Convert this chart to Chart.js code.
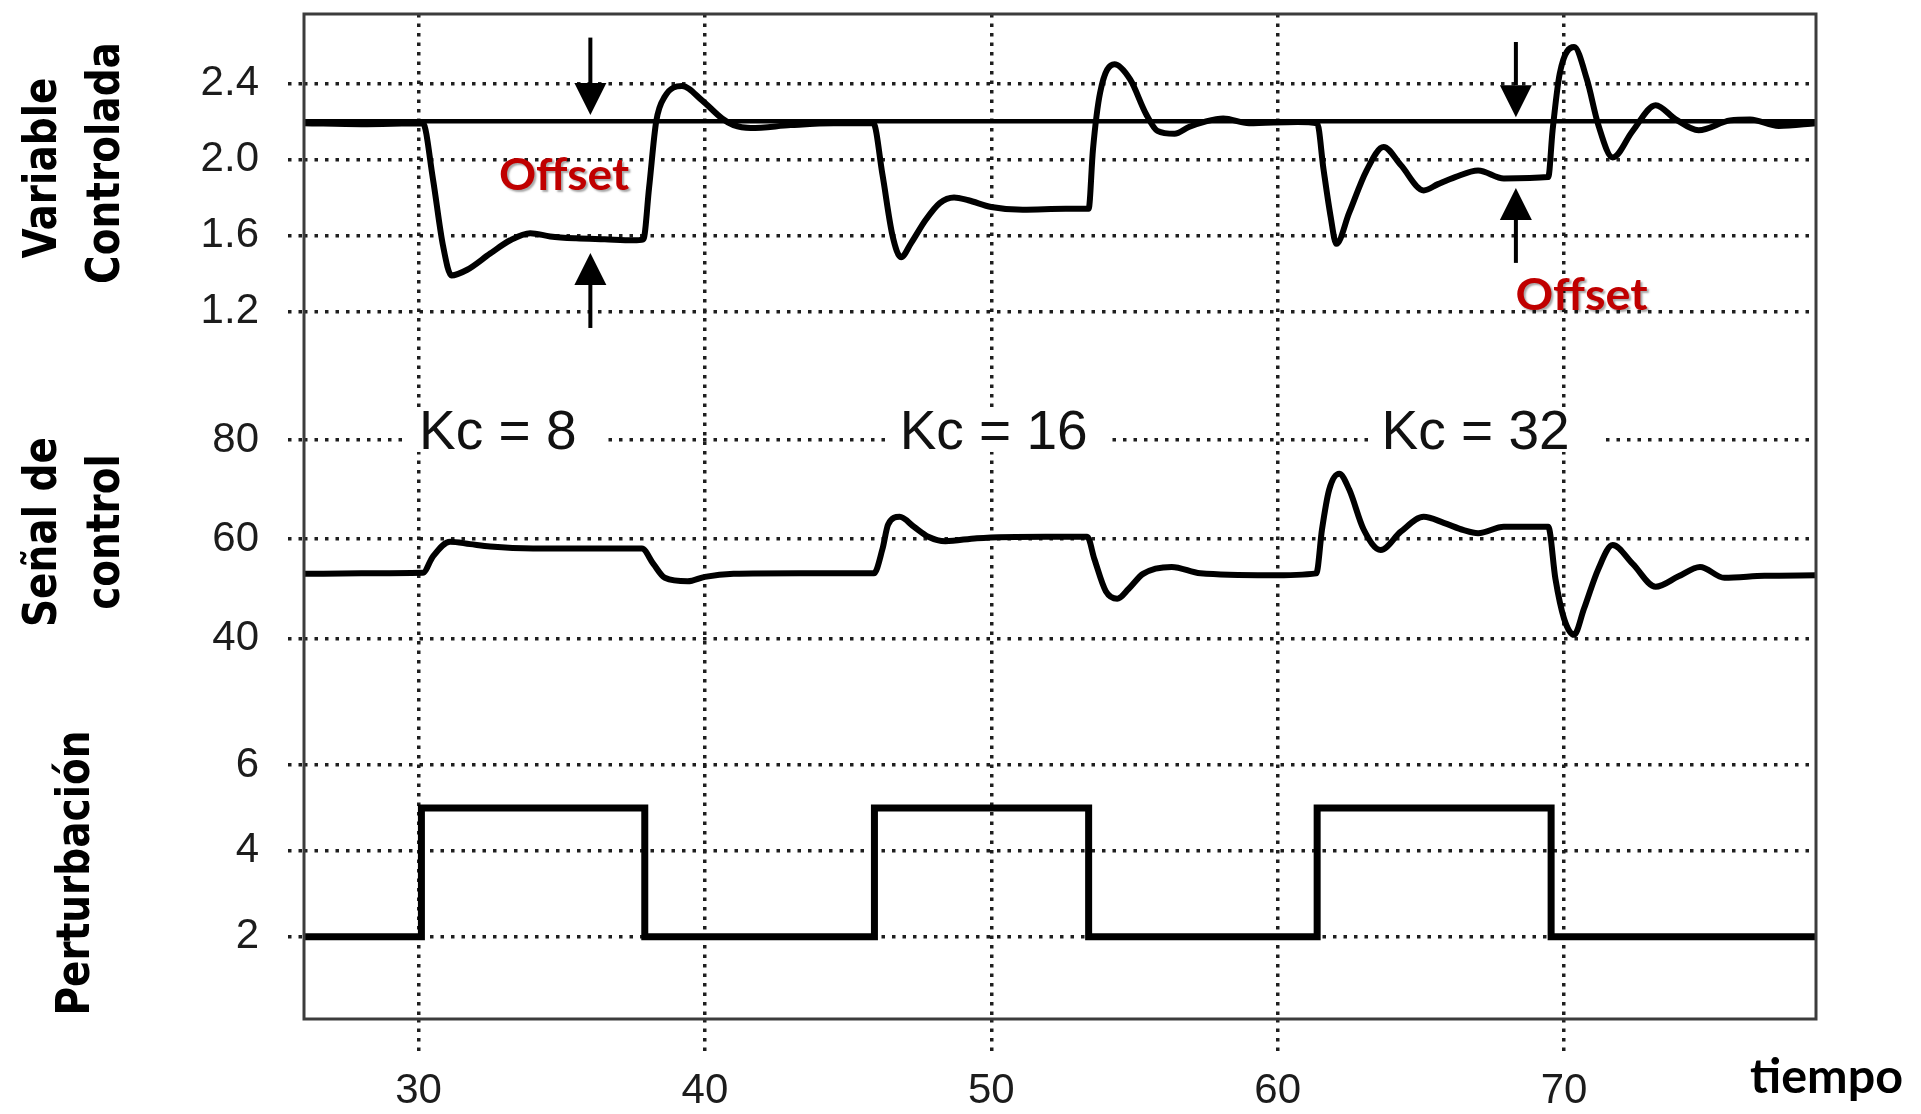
<!DOCTYPE html>
<html lang="es">
<head>
<meta charset="UTF-8">
<title>Variable controlada, señal de control y perturbación</title>
<script src="https://cdn.jsdelivr.net/npm/chart.js@4.4.1/dist/chart.umd.min.js"></script>
<style>
  html, body { margin: 0; padding: 0; background: #fff; }
  canvas { display: block; }
</style>
</head>
<body>
<canvas id="chart" width="1921" height="1114"></canvas>
<script>
// valores (tiempo en el eje x)
const tVariable = [26.0, 28.0, 30.15, 30.5, 30.85, 31.15, 31.7, 32.5, 33.2, 33.9, 34.6, 35.5, 36.5, 37.5, 37.85,
  38.05, 38.3, 38.6, 39.2, 39.9, 40.6, 41.0, 41.6, 43.0, 44.5, 45.88, 46.2, 46.55, 46.85, 47.2, 47.7, 48.2, 48.7,
  49.2, 50.0, 51.1, 52.6, 53.4, 53.55, 53.8, 54.3, 54.85, 55.4, 55.8, 56.4, 56.9, 57.5, 58.1, 59.0, 60.7, 61.38,
  61.6, 61.85, 62.05, 62.5, 63.1, 63.7, 64.3, 65.1, 65.6, 66.2, 67.0, 67.9, 69.45, 69.6, 69.85, 70.35, 70.8, 71.2,
  71.7, 72.4, 73.2, 73.9, 74.7, 75.8, 76.5, 77.5, 78.8];
const variable = [2.19, 2.185, 2.19, 1.90, 1.55, 1.39, 1.42, 1.505, 1.575, 1.612, 1.595, 1.585, 1.58, 1.575, 1.58,
  1.85, 2.2, 2.33, 2.385, 2.31, 2.215, 2.18, 2.165, 2.18, 2.19, 2.19, 1.92, 1.6, 1.486, 1.56, 1.68, 1.77, 1.80,
  1.785, 1.75, 1.735, 1.74, 1.74, 2.05, 2.35, 2.50, 2.42, 2.24, 2.15, 2.135, 2.17, 2.2, 2.215, 2.19, 2.197, 2.19,
  1.95, 1.7, 1.556, 1.72, 1.94, 2.065, 1.97, 1.837, 1.87, 1.907, 1.942, 1.90, 1.907, 2.15, 2.45, 2.59, 2.42, 2.18,
  2.01, 2.15, 2.285, 2.21, 2.153, 2.205, 2.21, 2.175, 2.19];

const tReferencia = [26, 78.8];
const referencia = [2.2, 2.2];

const tSenal = [26.0, 28.0, 30.15, 30.5, 31.1, 31.8, 32.5, 34.0, 37.8, 38.2, 38.6, 39.4, 40.0, 41.0, 43.3, 45.9,
  46.2, 46.4, 46.8, 47.3, 47.8, 48.4, 49.5, 51.9, 53.35, 53.6, 54.0, 54.4, 54.8, 55.3, 56.3, 57.3, 59.7, 61.35,
  61.55, 61.8, 62.15, 62.5, 63.0, 63.6, 64.3, 65.1, 65.8, 66.5, 67.0, 67.9, 69.45, 69.7, 70.0, 70.35, 70.7, 71.2,
  71.7, 72.4, 73.2, 74.0, 74.75, 75.6, 77.0, 78.8];
const senal = [53.0, 53.1, 53.2, 56.5, 59.5, 59.0, 58.5, 58.1, 58.1, 55.0, 52.2, 51.5, 52.4, 53.0, 53.1, 53.1,
  58.0, 63.0, 64.5, 62.5, 60.5, 59.6, 60.2, 60.5, 60.5, 56.0, 49.5, 48.0, 50.0, 53.0, 54.4, 53.1, 52.7, 53.1,
  62.0, 70.0, 73.2, 70.0, 62.0, 57.8, 61.5, 64.5, 63.3, 61.8, 61.2, 62.5, 62.5, 52.0, 44.0, 40.7, 46.0, 54.0,
  58.8, 55.0, 50.4, 52.5, 54.4, 52.2, 52.6, 52.7];

const tPerturbacion = [26, 30.1, 37.9, 45.92, 53.4, 61.38, 69.55, 78.8];
const perturbacion = [2, 5, 2, 5, 2, 5, 2, 2];

const ticksTiempo = [30, 40, 50, 60, 70];
const ticksVariable = [1.2, 1.6, 2.0, 2.4];
const ticksSenal = [40, 60, 80];
const ticksPerturbacion = [2, 4, 6];

const etiquetasKc = ["Kc = 8", "Kc = 16", "Kc = 32"];

// anotaciones (en unidades de los ejes)
const posKc = [
  {x: 30.02, desde: 29.53, hasta: 36.54},
  {x: 46.8, desde: 46.35, hasta: 54.2},
  {x: 63.63, desde: 63.25, hasta: 71.24}
];
const flechas = [
  {x: 36.0, desde: 2.64, punta: 2.233},
  {x: 36.0, desde: 1.114, punta: 1.508},
  {x: 68.32, desde: 2.617, punta: 2.222},
  {x: 68.32, desde: 1.456, punta: 1.85}
];
const posOffset = [{x: 32.81, y: 1.839, ancho: 130}, {x: 68.31, y: 1.209, ancho: 132}];

const puntos = (xs, ys) => xs.map((x, i) => ({x: x, y: ys[i]}));
const fijarTicks = (valores) => (scale) => { scale.ticks = valores.map(v => ({value: v})); };

const fuenteTicks = {family: '"Liberation Sans", Arial, sans-serif', size: 42};
const fuenteTexto = 'Lato, "Open Sans", "Noto Sans", sans-serif';
const punteado = '#1e1e1e';

function ejeY(valores, min, max, peso, formato) {
  return {
    type: 'linear',
    position: 'left',
    stack: 'paneles',
    stackWeight: peso,
    min: min,
    max: max,
    bounds: 'data',
    afterBuildTicks: fijarTicks(valores),
    afterFit: (scale) => {
      scale.width = 304;
      scale.paddingTop = 0;
      scale.paddingBottom = 0;
    },
    grid: {color: punteado, lineWidth: 3.5, tickLength: 16, tickBorderDash: [3.5, 7], tickWidth: 3.5, tickColor: punteado},
    border: {display: false, dash: [3.5, 7]},
    ticks: {font: fuenteTicks, color: '#1c1c1c', padding: 29, callback: formato}
  };
}

// marco del grafico
const marco = {
  id: 'marco',
  afterDatasetsDraw(chart) {
    const {ctx, chartArea: a} = chart;
    ctx.save();
    ctx.strokeStyle = '#3c3c3c';
    ctx.lineWidth = 3;
    ctx.strokeRect(a.left, a.top, a.right - a.left, a.bottom - a.top);
    ctx.restore();
  }
};

function textoVertical(ctx, texto, xBase, yCentro) {
  ctx.save();
  ctx.translate(xBase, yCentro);
  ctx.rotate(-Math.PI / 2);
  ctx.scale(1, 1.2);
  ctx.fillText(texto, 0, 0);
  ctx.restore();
}

function textoAjustado(ctx, texto, x, yBase, ancho) {
  const w = ctx.measureText(texto).width;
  ctx.save();
  ctx.translate(x, yBase);
  ctx.scale(ancho / w, 1);
  ctx.fillText(texto, 0, 0);
  ctx.restore();
}

const anotaciones = {
  id: 'anotaciones',
  beforeDatasetsDraw(chart) {
    // huecos blancos en la rejilla detras de los textos Kc
    const {ctx} = chart;
    const x = chart.scales.x, ys = chart.scales.ySen;
    const yc = ys.getPixelForValue(80);
    ctx.save();
    ctx.fillStyle = '#fff';
    posKc.forEach(p => {
      const x1 = x.getPixelForValue(p.desde), x2 = x.getPixelForValue(p.hasta);
      ctx.fillRect(x1, yc - 32, x2 - x1, 44);
    });
    ctx.fillStyle = '#111';
    ctx.font = '55px "Liberation Sans", Arial, sans-serif';
    ctx.textBaseline = 'alphabetic';
    posKc.forEach((p, i) => {
      ctx.fillText(etiquetasKc[i], x.getPixelForValue(p.x), ys.getPixelForValue(78.2));
    });
    ctx.restore();
  },
  afterDraw(chart) {
    const {ctx} = chart;
    const x = chart.scales.x, yv = chart.scales.yVar;
    ctx.save();
    // flechas del offset
    ctx.strokeStyle = '#000';
    ctx.fillStyle = '#000';
    ctx.lineWidth = 4;
    flechas.forEach(f => {
      const px = x.getPixelForValue(f.x);
      const y0 = yv.getPixelForValue(f.desde), y1 = yv.getPixelForValue(f.punta);
      const dir = Math.sign(y1 - y0), largo = 32, ancho = 32;
      ctx.beginPath();
      ctx.moveTo(px, y0);
      ctx.lineTo(px, y1 - dir * largo);
      ctx.stroke();
      ctx.beginPath();
      ctx.moveTo(px, y1);
      ctx.lineTo(px - ancho / 2, y1 - dir * largo);
      ctx.lineTo(px + ancho / 2, y1 - dir * largo);
      ctx.closePath();
      ctx.fill();
    });
    // textos Offset
    ctx.font = 'bold 44px ' + fuenteTexto;
    ctx.textBaseline = 'alphabetic';
    ctx.fillStyle = '#c00000';
    ctx.shadowColor = 'rgba(0,0,0,0.35)';
    ctx.shadowOffsetX = 2;
    ctx.shadowOffsetY = 2;
    ctx.shadowBlur = 2;
    posOffset.forEach(o => {
      textoAjustado(ctx, 'Offset', x.getPixelForValue(o.x), yv.getPixelForValue(o.y), o.ancho);
    });
    ctx.shadowColor = 'transparent';
    // titulos de los paneles
    ctx.fillStyle = '#000';
    ctx.font = 'bold 39px "DejaVu Sans", sans-serif';
    ctx.textAlign = 'center';
    textoVertical(ctx, 'Variable', 56, 168);
    textoVertical(ctx, 'Controlada', 119, 163);
    textoVertical(ctx, 'Señal de', 56, 532);
    textoVertical(ctx, 'control', 119, 532);
    textoVertical(ctx, 'Perturbación', 89, 873);
    // titulo del eje x
    ctx.textAlign = 'left';
    ctx.font = 'bold 48px ' + fuenteTexto;
    textoAjustado(ctx, 'tiempo', 1750, 1093, 153);
    ctx.restore();
  }
};

const linea = {borderColor: '#000', backgroundColor: '#000', pointRadius: 0, fill: false};

new Chart(document.getElementById('chart').getContext('2d'), {
  type: 'line',
  data: {
    datasets: [
      Object.assign({label: 'Referencia', data: puntos(tReferencia, referencia), yAxisID: 'yVar', borderWidth: 4.5}, linea),
      Object.assign({label: 'Variable controlada', data: puntos(tVariable, variable), yAxisID: 'yVar', borderWidth: 6,
        cubicInterpolationMode: 'monotone'}, linea),
      Object.assign({label: 'Señal de control', data: puntos(tSenal, senal), yAxisID: 'ySen', borderWidth: 6,
        cubicInterpolationMode: 'monotone'}, linea),
      Object.assign({label: 'Perturbación', data: puntos(tPerturbacion, perturbacion), yAxisID: 'yPert', borderWidth: 7,
        stepped: true}, linea)
    ]
  },
  options: {
    responsive: false,
    animation: false,
    layout: {padding: {left: 0, top: 14, right: 105, bottom: 0}},
    plugins: {legend: {display: false}, tooltip: {enabled: false}},
    scales: {
      x: {
        type: 'linear',
        min: 26,
        max: 78.8,
        bounds: 'data',
        afterBuildTicks: fijarTicks(ticksTiempo),
        afterFit: (scale) => { scale.height = 95; },
        grid: {color: punteado, lineWidth: 3.5, tickLength: 38, tickBorderDash: [3.5, 6], tickWidth: 3.5, tickColor: punteado},
        border: {display: false, dash: [3.5, 6]},
        ticks: {font: fuenteTicks, color: '#1c1c1c', padding: 9, maxRotation: 0, autoSkip: false}
      },
      yPert: ejeY(ticksPerturbacion, 0.083, 7.514, 319, v => String(v)),
      ySen: ejeY(ticksSenal, 27.56, 90.08, 310, v => String(v)),
      yVar: ejeY(ticksVariable, 0.788, 2.764, 376, v => v.toFixed(1))
    }
  },
  plugins: [marco, anotaciones]
});
</script>
</body>
</html>
